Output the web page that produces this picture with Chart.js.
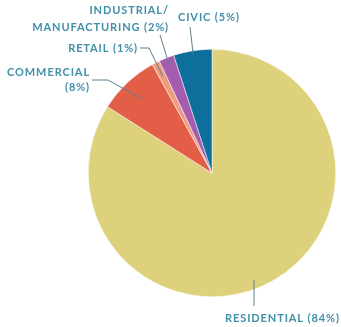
<!DOCTYPE html>
<html>
<head>
<meta charset="utf-8">
<script src="https://cdn.jsdelivr.net/npm/chart.js@4"></script>
<style>
html,body{margin:0;padding:0;background:#fff;}
#wrap{width:341px;height:327px;position:relative;}
</style>
</head>
<body>
<div id="wrap"><canvas id="c" width="341" height="327"></canvas></div>
<script>
const categories = ["RESIDENTIAL", "COMMERCIAL", "RETAIL", "INDUSTRIAL/ MANUFACTURING", "CIVIC"];
const shares = [84, 8, 1, 2, 5];
const colors = ["#DDD17C", "#E35E46", "#EE9B80", "#A55CAF", "#0E6E9C"];

const TEXT = "#4090A8";
const LINE = "#5E7F8E";

const labelPlugin = {
  id: "labels",
  afterDraw(chart) {
    const ctx = chart.ctx;
    const arcs = chart.getDatasetMeta(0).data;
    ctx.save();
    ctx.font = "bold 11px Lato, 'DejaVu Sans', sans-serif";
    if ('letterSpacing' in ctx) ctx.letterSpacing = "0.9px";
    ctx.fillStyle = TEXT;
    ctx.textBaseline = "middle";
    const pt = (i, f) => {
      const a = arcs[i];
      const mid = (a.startAngle + a.endAngle) / 2;
      const r = a.outerRadius * f;
      return [a.x + Math.cos(mid) * r, a.y + Math.sin(mid) * r];
    };
    ctx.strokeStyle = LINE;
    ctx.lineWidth = 1;
    const pct = i => "(" + shares[i] + "%)";

    // CIVIC
    ctx.textAlign = "left";
    ctx.fillText(categories[4] + " " + pct(4), 178, 17);
    let p = pt(4, 0.97);
    ctx.beginPath(); ctx.moveTo(190, 27); ctx.lineTo(p[0], p[1]); ctx.stroke();

    // INDUSTRIAL
    ctx.textAlign = "right";
    const ind = categories[3].split(" ");
    ctx.fillText(ind[0], 169, 10);
    ctx.fillText(ind[1] + " " + pct(3), 169, 27);
    p = pt(3, 0.93);
    ctx.beginPath(); ctx.moveTo(160, 35); ctx.lineTo(p[0], p[1]); ctx.stroke();

    // RETAIL
    ctx.fillText(categories[2] + " " + pct(2), 138, 48);
    p = pt(2, 0.88);
    ctx.beginPath(); ctx.moveTo(140, 48); ctx.lineTo(149, 48); ctx.lineTo(p[0], p[1]); ctx.stroke();

    // COMMERCIAL
    ctx.fillText(categories[1], 90, 72);
    ctx.fillText(pct(1), 90, 87);
    p = pt(1, 0.82);
    ctx.beginPath(); ctx.moveTo(92, 80); ctx.lineTo(108, 80); ctx.lineTo(p[0], p[1]); ctx.stroke();

    // RESIDENTIAL
    ctx.textAlign = "left";
    ctx.fillText(categories[0] + " " + pct(0), 225, 318);
    const a0 = arcs[0];
    const lx = 254;
    const dx = lx - a0.x;
    const yEdge = a0.y + Math.sqrt(a0.outerRadius * a0.outerRadius - dx * dx);
    ctx.beginPath(); ctx.moveTo(lx, 306); ctx.lineTo(lx, yEdge - 9); ctx.stroke();
    ctx.restore();
  }
};

new Chart(document.getElementById("c"), {
  type: "pie",
  data: {
    labels: categories,
    datasets: [{
      data: shares,
      backgroundColor: colors,
      borderColor: "#ffffff",
      borderWidth: 0.5
    }]
  },
  options: {
    responsive: false,
    animation: false,
    layout: { padding: { left: 88, right: 5, top: 49, bottom: 30 } },
    plugins: {
      legend: { display: false },
      tooltip: { enabled: false }
    }
  },
  plugins: [labelPlugin]
});
</script>
</body>
</html>
